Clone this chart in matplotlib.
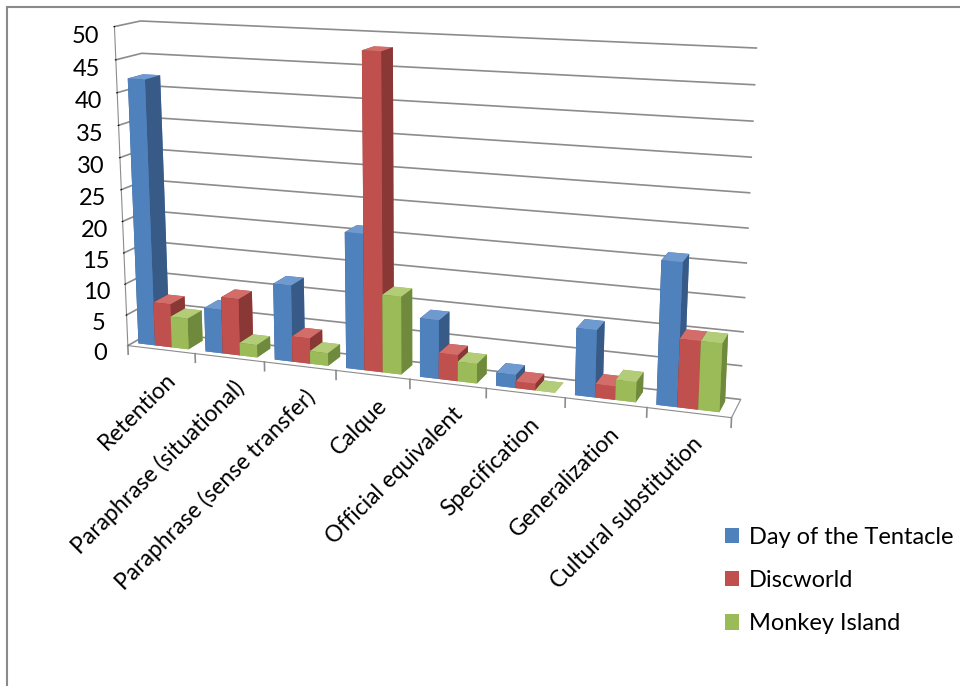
import numpy as np
import matplotlib.pyplot as plt
from matplotlib.patches import Patch, Rectangle
from mpl_toolkits.mplot3d import proj3d

categories = ['Retention', 'Paraphrase (situational)', 'Paraphrase (sense transfer)', 'Calque',
              'Official equivalent', 'Specification', 'Generalization', 'Cultural substitution']
tentacle = [42, 7, 12, 21, 9, 2, 10, 21]
discworld = [7, 9, 4, 48, 4, 1, 2, 10]
monkey = [5, 2, 2, 12, 3, 0, 3, 10]
series_names = ['Day of the Tentacle', 'Discworld', 'Monkey Island']
z_ticks = list(range(0, 55, 5))

# front / top / side shades for each series
front_colors = ['#4F81BD', '#C0504D', '#9BBB59']
top_colors = ['#6E9AD0', '#D26D6A', '#B2CC78']
side_colors = ['#375A86', '#8A3836', '#6F8A3C']
grid_col = '#8c8c8c'

plt.rcParams['font.family'] = ['Lato', 'DejaVu Sans']

fig = plt.figure(figsize=(9.6, 6.86), dpi=100)
ax = fig.add_axes([0.113, 0.245, 0.63, 0.88], projection='3d')
ax.set_proj_type('persp', focal_length=0.5)
ax.view_init(elev=13, azim=-70)
ax.computed_zorder = False

bar_w = 0.25
bar_d = 0.6
data = [tentacle, discworld, monkey]
# draw left to right so nearer bars cover the side faces of their neighbours
for i in range(len(categories)):
    for k, vals in enumerate(data):
        x0 = i + 0.46 - 1.5 * bar_w + k * bar_w
        # face order: -Z, +Z, -Y, +Y, -X, +X
        cols = [front_colors[k], top_colors[k], front_colors[k],
                front_colors[k], side_colors[k], side_colors[k]]
        bar = ax.bar3d(x0, 0.2, 0, bar_w, bar_d, vals[i], color=cols, shade=False,
                       zorder=3 + i * 3 + k)
        bar.set_clip_on(False)

# tick marks between categories on the front edge
for b in range(len(categories) + 1):
    ax.plot([b, b], [0, 0], [0, -1.4], color=grid_col, lw=1.2, zorder=1, clip_on=False)

ax.set_xlim(0, len(categories))
ax.set_ylim(0, 1)
ax.set_zlim(0, 50)
ax.set_box_aspect((505, 42, 268), zoom=1.18)

ax.set_xticks([])
ax.set_yticks([])
ax.set_zticks(z_ticks)
ax.set_zticklabels([str(t) for t in z_ticks], fontsize=17)
ax.zaxis.set_ticks_position('lower')

for a in (ax.xaxis, ax.yaxis, ax.zaxis):
    a.set_pane_color((1, 1, 1, 0))
    a.line.set_color(grid_col)
    a._axinfo['grid'].update(color=grid_col, linewidth=1.2)
    a._axinfo['tick']['color'] = grid_col
ax.zaxis.pane.set_edgecolor('#a0a0a0')
ax.xaxis.pane.set_edgecolor((1, 1, 1, 0))
ax.yaxis.pane.set_edgecolor((1, 1, 1, 0))

# category labels: project a point just below the front edge, then write rotated 2D text there
fig.canvas.draw()
for i, name in enumerate(categories):
    px, py, _ = proj3d.proj_transform(i + 0.55, 0, -3, ax.M)
    ax.text2D(px, py, name, transform=ax.transData, rotation=45, rotation_mode='anchor',
              ha='right', va='top', fontsize=16.5, clip_on=False)

handles = [Patch(facecolor=c, edgecolor='none') for c in front_colors]
fig.legend(handles, series_names, loc='upper left', bbox_to_anchor=(708 / 960, 1 - 510 / 686),
           frameon=False, fontsize=17, handlelength=0.62, handleheight=0.62,
           handletextpad=0.4, labelspacing=0.95, borderpad=0.2)

# chart border
fig.add_artist(Rectangle((7 / 960, -0.1), 1.2, 1.1 - 7 / 686, transform=fig.transFigure,
                         fill=False, edgecolor='#8a8a8a', lw=1.5))

fig.savefig('out.png', dpi=100)
